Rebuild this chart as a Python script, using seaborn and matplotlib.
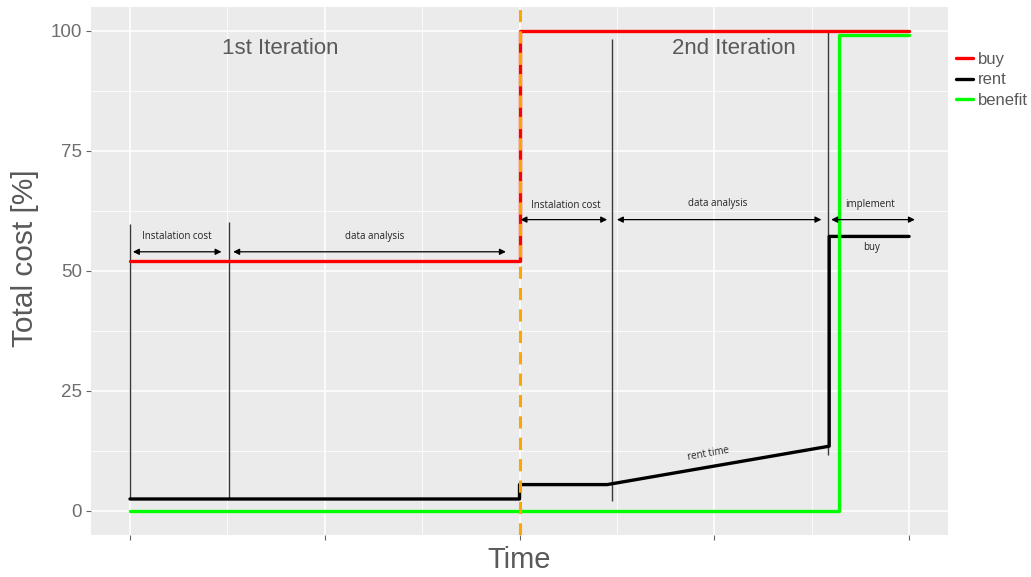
import pandas as pd
import numpy as np
import matplotlib
matplotlib.use('Agg')
import matplotlib.pyplot as plt
from matplotlib.ticker import MultipleLocator
import seaborn as sns

# ── data ────────────────────────────────────────────────────────
buy_x = [0, 2, 2, 4]
buy_y = [52, 52, 100, 100]
rent_x = [0, 2, 2, 2.45, 3.59, 3.59, 4]
rent_y = [2.5, 2.5, 5.5, 5.5, 13.5, 57.2, 57.2]
benefit_x = [0, 3.64, 3.64, 4]
benefit_y = [0, 0, 99.2, 99.2]
series_names = ['buy', 'rent', 'benefit']
series_colors = ['#FF0000', '#000000', '#00FF00']
switch_time = 2

# annotation markers: vertical guide lines (x, y_bottom, y_top)
guide_x = [0, 0.508, 2.477, 3.585]
guide_lo = [2.5, 2.5, 2.0, 11.6]
guide_hi = [59.7, 60.3, 98.3, 100]
# arrows (x_start, x_end, y) and labels
arrow_x0 = [0.015, 0.53, 2.005, 2.50, 3.60]
arrow_x1 = [0.47, 1.93, 2.45, 3.55, 4.03]
arrow_y = [54, 54, 60.7, 60.7, 60.7]
arrow_labels = ['Instalation cost', 'data analysis', 'Instalation cost',
                'data analysis', 'implement']
label_x = [0.241, 1.256, 2.236, 3.015, 3.80]
label_y = [57.2, 57.2, 63.6, 64.0, 63.8]

df = pd.concat([
    pd.DataFrame({'time': buy_x, 'cost': buy_y, 'series': 'buy'}),
    pd.DataFrame({'time': rent_x, 'cost': rent_y, 'series': 'rent'}),
    pd.DataFrame({'time': benefit_x, 'cost': benefit_y, 'series': 'benefit'}),
], ignore_index=True)

sns.set_theme(style="darkgrid", rc={'axes.facecolor': '#EBEBEB',
                                    'grid.color': 'white'})
plt.rcParams['font.family'] = ['Liberation Sans', 'DejaVu Sans']

fig = plt.figure(figsize=(10.31, 5.77), dpi=100)
ax = fig.add_axes([0.0883, 0.0728, 0.8312, 0.9151])

sns.lineplot(data=df, x='time', y='cost', hue='series', hue_order=series_names,
             palette=dict(zip(series_names, series_colors)), estimator=None,
             sort=False, linewidth=2.4, ax=ax, zorder=3)

ax.axvline(switch_time, color='#FFA500', linestyle=(0, (4, 3)), linewidth=2.2, zorder=4)

# guides and arrows
ax.vlines(guide_x, guide_lo, guide_hi, color='#3A3A3A', linewidth=1.0, zorder=2)
for x0, x1, y in zip(arrow_x0, arrow_x1, arrow_y):
    ax.annotate('', xy=(x1, y), xytext=(x0, y),
                arrowprops=dict(arrowstyle='<|-|>', color='black', lw=0.9,
                                mutation_scale=9, shrinkA=0, shrinkB=0))
small_font = ['Open Sans', 'DejaVu Sans']
for txt, x, y in zip(arrow_labels, label_x, label_y):
    ax.text(x, y, txt, ha='center', va='center', fontsize=7,
            family=small_font, color='#222222')
ax.text(3.805, 54.9, 'buy', ha='center', va='center', fontsize=7,
        family=small_font, color='#222222')
ax.text(2.97, 11.9, 'rent time', ha='center', va='center', fontsize=7,
        rotation=10, family=small_font, color='#222222')

ax.text(0.774, 96.3, '1st Iteration', ha='center', va='center', fontsize=16, color='#595959')
ax.text(3.10, 96.3, '2nd Iteration', ha='center', va='center', fontsize=16, color='#595959')

# axes in ggplot style
ax.set_xlim(-0.2, 4.2)
ax.set_ylim(-5, 105)
ax.xaxis.set_major_locator(MultipleLocator(1))
ax.xaxis.set_minor_locator(MultipleLocator(0.5))
ax.yaxis.set_major_locator(MultipleLocator(25))
ax.yaxis.set_minor_locator(MultipleLocator(12.5))
ax.grid(which='major', color='white', linewidth=1.1)
ax.grid(which='minor', color='white', linewidth=0.55)
ax.set_xticklabels([])
ax.tick_params(axis='both', which='major', length=3.5, color='#666666', width=0.8,
               bottom=True, left=True, labelsize=13.5, labelcolor='#6E6E6E', pad=3)
ax.tick_params(axis='both', which='minor', length=0)
for s in ax.spines.values():
    s.set_visible(False)
ax.set_xlabel('Time', fontsize=21, color='#595959')
ax.set_ylabel('Total cost [%]', fontsize=21.5, color='#595959')
ax.xaxis.set_label_coords(0.5, -0.02)
ax.yaxis.set_label_coords(-0.061, 0.525)

handles, labels = ax.get_legend_handles_labels()
ax.legend(handles, labels, loc='upper left', bbox_to_anchor=(1.009, 0.915),
          frameon=False, fontsize=12, handlelength=1.05, handletextpad=0.3,
          labelspacing=0.33, labelcolor='#595959', borderaxespad=0, borderpad=0)

fig.savefig('out.png', dpi=100)
